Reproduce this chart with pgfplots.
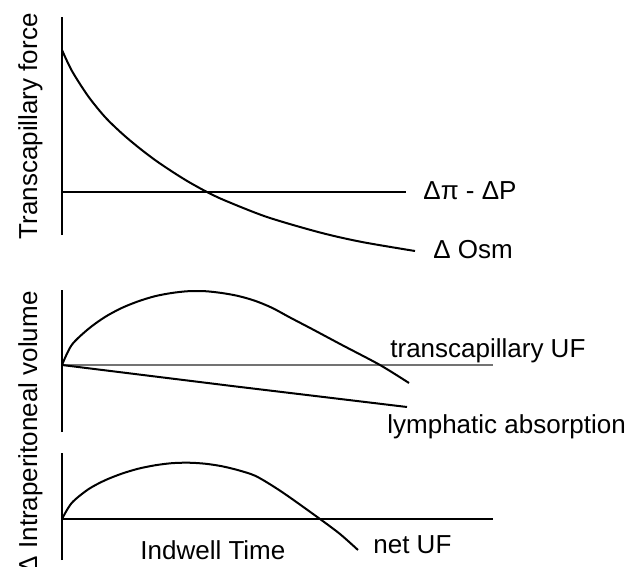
\documentclass[border=0pt]{standalone}
\usepackage{fontspec}
\setmainfont{Liberation Sans}
\usepackage{pgfplots}
\pgfplotsset{compat=1.18}

% one data unit = 10 px of the reference = 5pt
\pgfplotsset{
 panel/.style={
  scale only axis, x=5pt, y=5pt, clip=false,
  axis x line*=middle, axis y line*=left,
  xtick=\empty, ytick=\empty,
  axis line style={line width=0.6pt},
  xmin=0,
 },
 curve/.style={black, line width=1pt, smooth, mark=none},
}

\begin{document}
\begin{tikzpicture}[every node/.append style={font=\fontsize{13}{15}\selectfont}]

% top: transcapillary force
\begin{axis}[panel, at={(31pt,-96pt)}, anchor=origin,
 xmax=34.4, ymin=-4.3, ymax=17.5]
\addplot[curve] coordinates {
 (0,14.2)(1,12.1)(2.6,9.6)(4.3,7.5)(6,5.85)(7.6,4.5)(9.3,3.2)(11,2.05)
 (12.6,1.05)(14.5,0)(16.3,-0.85)(20.5,-2.5)(25.8,-4.05)(30,-5.0)(35.3,-5.9)};
\node[anchor=base west, inner sep=0] at (36.1,-0.7) {Δπ - ΔP};
\node[anchor=base west, inner sep=0] at (37.1,-6.6) {Δ Osm};
\end{axis}

% middle: transcapillary UF and lymphatic absorption
\begin{axis}[panel, at={(31pt,-182.5pt)}, anchor=origin,
 xmax=43.1, ymin=-6.7, ymax=7.5, x axis line style={black!55}]
\addplot[curve] coordinates {
 (0,0)(0.97,2.0)(2.63,3.6)(4.3,4.8)(5.97,5.7)(7.63,6.37)(9.3,6.88)
 (10.97,7.2)(12.63,7.38)(14.3,7.38)(15.97,7.2)(17.63,6.9)(19.3,6.42)(21,5.72)
 (22.8,4.75)(25,3.6)(28,2.0)(31.8,0)(34.7,-1.8)};
\addplot[black, line width=1pt, mark=none] coordinates {(0,0)(17,-2.1)(34.5,-4.2)};
\node[anchor=base west, inner sep=0] at (32.8,0.8) {transcapillary UF};
\node[anchor=base west, inner sep=0] at (32.5,-6.8) {lymphatic absorption};
\end{axis}

% bottom: net UF
\begin{axis}[panel, at={(31pt,-259.5pt)}, anchor=origin,
 xmax=43.1, ymin=-4.1, ymax=6.6]
\addplot[curve] coordinates {
 (0,0)(0.97,1.6)(2.63,2.97)(4.3,3.87)(5.97,4.53)(7.63,5.03)(9.3,5.37)
 (10.97,5.58)(12.63,5.63)(14.3,5.53)(15.97,5.28)(17.63,4.88)(19.3,4.33)(21,3.35)
 (22.8,2.15)(25.8,0)(27.8,-1.5)(29.6,-3.1)};
\node[anchor=base west, inner sep=0] at (7.8,-4.0) {Indwell Time};
\node[anchor=base west, inner sep=0] at (31.1,-3.4) {net UF};
\end{axis}

% y labels
\node[rotate=90, anchor=base east, inner sep=0] at (18.5pt,-6.5pt) {Transcapillary force};
\node[rotate=90, anchor=base east, inner sep=0] at (18.5pt,-145.5pt) {Δ Intraperitoneal volume};

\pgfresetboundingbox
\path[use as bounding box] (0,0) rectangle (321.5pt,-283.5pt);
\end{tikzpicture}
\end{document}
